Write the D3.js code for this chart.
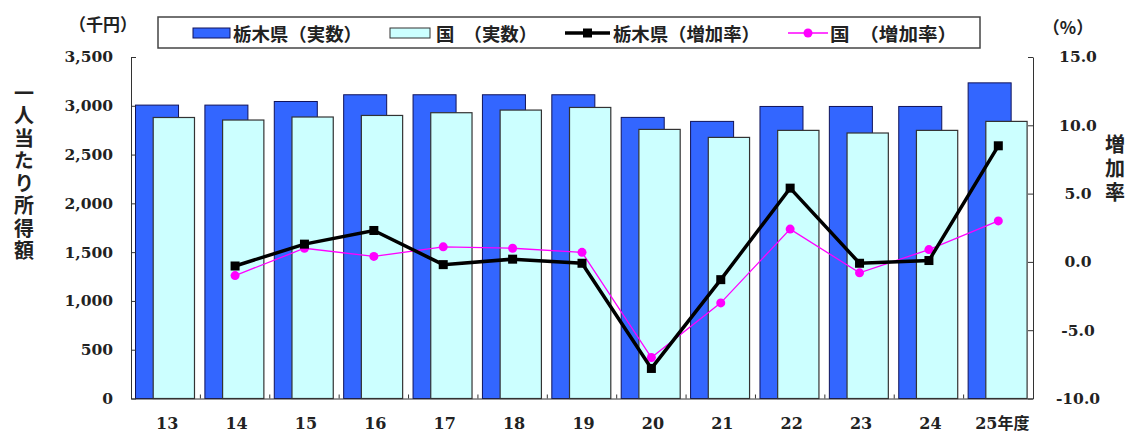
<!DOCTYPE html>
<html>
<head>
<meta charset="utf-8">
<script src="https://cdn.jsdelivr.net/npm/d3@7"></script>
<style>
  body { margin: 0; background: #fff; }
  svg { display: block; }
  .num { font-family: "DejaVu Serif", "Noto Sans CJK JP", serif; font-weight: bold; fill: #222; }
  .jp { font-family: "Noto Sans CJK JP", sans-serif; font-weight: bold; fill: #222; }
  .vert { writing-mode: vertical-rl; }
</style>
</head>
<body>
<svg id="chart" width="1129" height="435"></svg>
<script>
// 年度
const years = ["13", "14", "15", "16", "17", "18", "19", "20", "21", "22", "23", "24", "25年度"];
// 一人当たり所得額（千円）
const tochigiIncome = [3007, 3007, 3044, 3113, 3113, 3113, 3113, 2881, 2840, 2993, 2993, 2993, 3235];
const nationalIncome = [2880, 2854, 2885, 2901, 2929, 2956, 2983, 2758, 2676, 2748, 2721, 2748, 2840];
// 増加率（%）
const tochigiRate = [null, -0.3, 1.3, 2.3, -0.2, 0.2, -0.1, -7.8, -1.3, 5.4, -0.1, 0.1, 8.5];
const nationalRate = [null, -1.0, 1.0, 0.4, 1.1, 1.0, 0.7, -7.0, -3.0, 2.4, -0.8, 0.9, 3.0];
// 軸目盛
const incomeTicks = [0, 500, 1000, 1500, 2000, 2500, 3000, 3500];
const rateTicks = [-10, -5, 0, 5, 10, 15];

const svg = d3.select("#chart");
const plotLeft = 131, plotRight = 1033, plotTop = 57, plotBottom = 398.5;

const x = d3.scaleBand().domain(years).range([plotLeft, plotRight]).padding(0);
const yL = d3.scaleLinear().domain([0, 3500]).range([plotBottom, plotTop]);
const yR = d3.scaleLinear().domain([-10, 15]).range([plotBottom, plotTop]);
const bw = x.bandwidth();

const blue = "#3366ff", cyan = "#ccffff", magenta = "#ff00ff";

// 栃木県（実数）
svg.append("g").selectAll("rect")
  .data(years.map((y, i) => ({ y, v: tochigiIncome[i] })))
  .join("rect")
  .attr("x", d => x(d.y) + bw * 0.065)
  .attr("width", bw * 0.62)
  .attr("y", d => yL(d.v))
  .attr("height", d => yL(0) - yL(d.v))
  .attr("fill", blue)
  .attr("stroke", "#10135a")
  .attr("stroke-width", 1);

// 国（実数）
svg.append("g").selectAll("rect")
  .data(years.map((y, i) => ({ y, v: nationalIncome[i] })))
  .join("rect")
  .attr("x", d => x(d.y) + bw * 0.32)
  .attr("width", bw * 0.595)
  .attr("y", d => yL(d.v))
  .attr("height", d => yL(0) - yL(d.v))
  .attr("fill", cyan)
  .attr("stroke", "#333")
  .attr("stroke-width", 1.2);

// 左軸
const axL = svg.append("g").attr("transform", `translate(${plotLeft},0)`)
  .call(d3.axisLeft(yL).tickValues(incomeTicks).tickFormat(d3.format(","))
    .tickSizeInner(-5).tickSizeOuter(0).tickPadding(18));
axL.selectAll("text").attr("class", "num").style("font-size", "15.5px");

// 右軸
const axR = svg.append("g").attr("transform", `translate(${plotRight},0)`)
  .call(d3.axisRight(yR).tickValues(rateTicks).tickFormat(d => d.toFixed(1))
    .tickSizeInner(-5).tickSizeOuter(0).tickPadding(22));
axR.selectAll("text").attr("class", "num").style("font-size", "15.5px")
  .attr("text-anchor", "middle").attr("x", 45);

// 横軸
const axB = svg.append("g").attr("transform", `translate(0,${plotBottom})`)
  .call(d3.axisBottom(x).tickSize(0).tickPadding(19));
axB.selectAll("text").attr("class", "num").style("font-size", "16px")
  .attr("dx", (d, i) => i === years.length - 1 ? 4 : 1.5);
axB.select(".domain").attr("stroke", "#333");
svg.append("g").selectAll("line")
  .data(years.slice(1))
  .join("line")
  .attr("x1", d => x(d)).attr("x2", d => x(d))
  .attr("y1", plotBottom).attr("y2", plotBottom - 4)
  .attr("stroke", "#333");

[axL, axR].forEach(g => g.selectAll("path,line").attr("stroke", "#333"));

// 増加率の折れ線
const ptsT = years.map((y, i) => ({ y, v: tochigiRate[i] })).filter(d => d.v !== null);
const ptsN = years.map((y, i) => ({ y, v: nationalRate[i] })).filter(d => d.v !== null);
const line = d3.line().x(d => x(d.y) + bw / 2).y(d => yR(d.v));

svg.append("path").datum(ptsN).attr("d", line)
  .attr("fill", "none").attr("stroke", magenta).attr("stroke-width", 1.3);
svg.append("g").selectAll("circle").data(ptsN).join("circle")
  .attr("cx", d => x(d.y) + bw / 2).attr("cy", d => yR(d.v)).attr("r", 4.5)
  .attr("fill", magenta);

svg.append("path").datum(ptsT).attr("d", line)
  .attr("fill", "none").attr("stroke", "#000").attr("stroke-width", 3.5)
  .attr("stroke-linejoin", "miter");
svg.append("g").selectAll("rect").data(ptsT).join("rect")
  .attr("x", d => x(d.y) + bw / 2 - 4.5).attr("y", d => yR(d.v) - 4.5)
  .attr("width", 9).attr("height", 9).attr("fill", "#000");

// 単位・軸タイトル
svg.append("text").attr("class", "jp").attr("x", 103).attr("y", 31)
  .attr("text-anchor", "middle").style("font-size", "17px").text("（千円）");
svg.append("text").attr("class", "jp").attr("x", 1068).attr("y", 34)
  .attr("text-anchor", "middle").style("font-size", "17px").text("（%）");

svg.append("text").attr("class", "jp vert").attr("x", 24).attr("y", 173)
  .attr("text-anchor", "middle").style("font-size", "20px")
  .style("letter-spacing", "2.5px").text("一人当たり所得額");

svg.append("text").attr("class", "jp vert").attr("x", 1115).attr("y", 170)
  .attr("text-anchor", "middle").style("font-size", "20px")
  .style("letter-spacing", "4px").text("増加率");

// 凡例
const legend = svg.append("g");
legend.append("rect").attr("x", 158).attr("y", 17).attr("width", 822).attr("height", 31)
  .attr("fill", "#fff").attr("stroke", "#444").attr("stroke-width", 1.5);

legend.append("rect").attr("x", 193).attr("y", 28).attr("width", 37).attr("height", 10)
  .attr("fill", blue).attr("stroke", "#10135a");
legend.append("rect").attr("x", 390).attr("y", 28).attr("width", 40).attr("height", 10)
  .attr("fill", cyan).attr("stroke", "#333");
legend.append("line").attr("x1", 565).attr("x2", 610).attr("y1", 33).attr("y2", 33)
  .attr("stroke", "#000").attr("stroke-width", 3.5);
legend.append("rect").attr("x", 583).attr("y", 28.5).attr("width", 9).attr("height", 9).attr("fill", "#000");
legend.append("line").attr("x1", 788).attr("x2", 828).attr("y1", 33).attr("y2", 33)
  .attr("stroke", magenta).attr("stroke-width", 1.3);
legend.append("circle").attr("cx", 808).attr("cy", 33).attr("r", 4.5).attr("fill", magenta);

const legendItems = [
  { t: "栃木県（実数）", x: 233, w: 129 },
  { t: "国　（実数）", x: 436, w: 101 },
  { t: "栃木県（増加率）", x: 613, w: 147 },
  { t: "国　（増加率）", x: 830, w: 127 }
];
legend.selectAll("text.lg").data(legendItems).join("text")
  .attr("class", "jp lg").attr("x", d => d.x).attr("y", 33)
  .attr("dominant-baseline", "central")
  .attr("textLength", d => d.w).attr("lengthAdjust", "spacingAndGlyphs")
  .style("font-size", "18px").text(d => d.t);
</script>
</body>
</html>
